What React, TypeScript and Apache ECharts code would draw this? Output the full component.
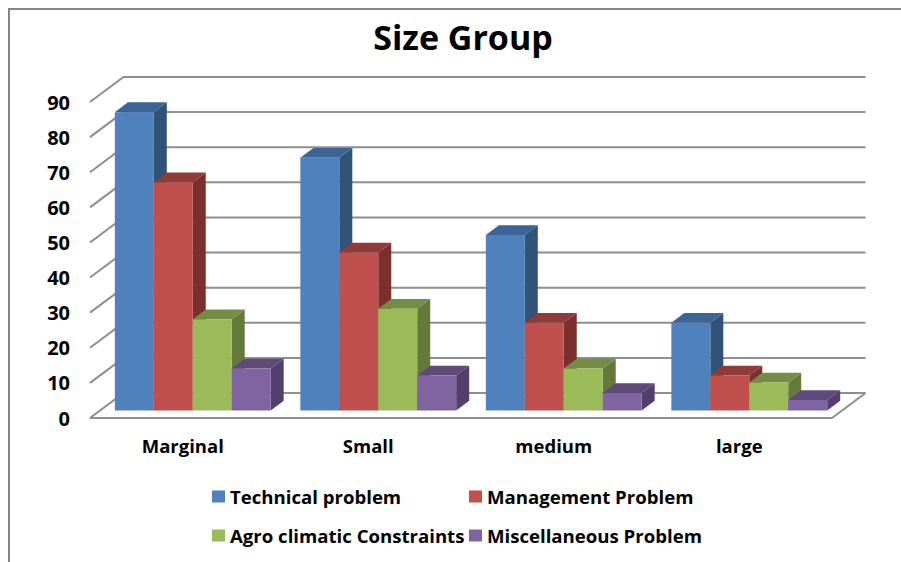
import React, { useEffect, useRef } from "react";
import * as echarts from "echarts";

const categories = ["Marginal", "Small", "medium", "large"];
const seriesNames = [
  "Technical problem",
  "Management Problem",
  "Agro climatic Constraints",
  "Miscellaneous Problem",
];
const technical = [85, 72, 50, 25];
const management = [65, 45, 25, 10];
const agro = [26, 29, 12, 8];
const misc = [12, 10, 5, 3];
const seriesValues = [technical, management, agro, misc];
const ticks = [0, 10, 20, 30, 40, 50, 60, 70, 80, 90];

const frontColors = ["#4F81BD", "#C0504D", "#9BBB59", "#8064A2"];
const topColors = ["#3D6494", "#8E3B39", "#748C43", "#5F4A79"];
const sideColors = ["#325378", "#7B302E", "#647A3A", "#523F6D"];

const FONT = "Open Sans";
const GRID_COLOR = "#8E8E8E";
const WALL_DX = 33.5;
const WALL_DY = -25;
const BAR_OFF_X = 10;
const BAR_OFF_Y = -7.4;
const BAR_DX = 13;
const BAR_DY = -9.8;

const legendPos = [
  { left: 212, top: 487 },
  { left: 469, top: 487 },
  { left: 212, top: 526 },
  { left: 469, top: 526 },
];

export default function App() {
  const ref = useRef<HTMLDivElement>(null);
  useEffect(() => {
    const chart = echarts.init(ref.current!, null, { renderer: "svg" });

    const wallSeries: any = {
      type: "custom",
      silent: true,
      z: 1,
      data: ticks.map((t) => [0, t]),
      encode: { x: 0, y: 1 },
      renderItem: (params: any, api: any) => {
        const cs = params.coordSys;
        const v = api.value(1);
        const y = api.coord([0, v])[1];
        const x0 = cs.x;
        const x1 = cs.x + cs.width;
        const style = { stroke: GRID_COLOR, lineWidth: 2, fill: "none" };
        const children: any[] = [
          {
            type: "polyline",
            shape: {
              points: [
                [x0, y],
                [x0 + WALL_DX, y + WALL_DY],
                [x1 + WALL_DX, y + WALL_DY],
              ],
            },
            style,
          },
        ];
        if (v === 0) {
          children.push({
            type: "polyline",
            shape: {
              points: [
                [x0, y],
                [x1, y],
                [x1 + WALL_DX, y + WALL_DY],
              ],
            },
            style,
          });
        }
        return { type: "group", children };
      },
    };

    const barSeries: any[] = seriesNames.map((name, s) => ({
      type: "custom",
      name,
      silent: true,
      z: 2 + s,
      itemStyle: { color: frontColors[s] },
      data: seriesValues[s].map((v, i) => [i, v]),
      encode: { x: 0, y: 1 },
      renderItem: (params: any, api: any) => {
        const i = api.value(0);
        const top = api.coord([i, api.value(1)]);
        const base = api.coord([i, 0]);
        const w = api.size([1, 0])[0] * 0.21;
        const x0 = top[0] + BAR_OFF_X + (s - 2) * w;
        const x1 = x0 + w;
        const yT = top[1] + BAR_OFF_Y;
        const yB = base[1] + BAR_OFF_Y;
        return {
          type: "group",
          children: [
            {
              type: "polygon",
              shape: {
                points: [
                  [x1, yT],
                  [x1 + BAR_DX, yT + BAR_DY],
                  [x1 + BAR_DX, yB + BAR_DY],
                  [x1, yB],
                ],
              },
              style: { fill: sideColors[s] },
            },
            {
              type: "polygon",
              shape: {
                points: [
                  [x0, yT],
                  [x0 + BAR_DX, yT + BAR_DY],
                  [x1 + BAR_DX, yT + BAR_DY],
                  [x1, yT],
                ],
              },
              style: { fill: topColors[s] },
            },
            {
              type: "rect",
              shape: { x: x0, y: yT, width: w, height: yB - yT },
              style: { fill: frontColors[s] },
            },
          ],
        };
      },
    }));

    chart.setOption({
      animation: false,
      backgroundColor: "#ffffff",
      title: {
        text: "Size Group",
        left: 458,
        top: 15,
        textAlign: "center",
        textStyle: { fontFamily: FONT, fontWeight: 700, fontSize: 34, color: "#000000" },
      },
      grid: { left: 90, top: 102, width: 742, height: 316 },
      xAxis: {
        type: "category",
        data: categories,
        axisLine: { show: false },
        axisTick: { show: false },
        splitLine: { show: false },
        axisLabel: {
          margin: 18,
          fontFamily: FONT,
          fontWeight: 700,
          fontSize: 18.5,
          color: "#000000",
        },
      },
      yAxis: {
        type: "value",
        min: 0,
        max: 90,
        interval: 10,
        axisLine: { show: false },
        axisTick: { show: false },
        splitLine: { show: false },
        axisLabel: {
          margin: 20,
          fontFamily: FONT,
          fontWeight: 700,
          fontSize: 20,
          color: "#000000",
        },
      },
      legend: seriesNames.map((name, i) => ({
        data: [name],
        left: legendPos[i].left,
        top: legendPos[i].top,
        padding: 0,
        icon: "rect",
        itemWidth: 13,
        itemHeight: 12,
        selectedMode: false,
        textStyle: { fontFamily: FONT, fontWeight: 700, fontSize: 18.6, color: "#000000" },
      })),
      graphic: [
        {
          type: "polyline",
          silent: true,
          shape: { points: [[9, 562], [9, 9], [901, 9]] },
          style: { stroke: "#868686", lineWidth: 2, fill: "none" },
        },
      ],
      series: [wallSeries, ...barSeries],
    });
    return () => chart.dispose();
  }, []);
  return <div ref={ref} style={{ position: "absolute", left: 0, top: 0, width: 901, height: 562 }} />;
}
